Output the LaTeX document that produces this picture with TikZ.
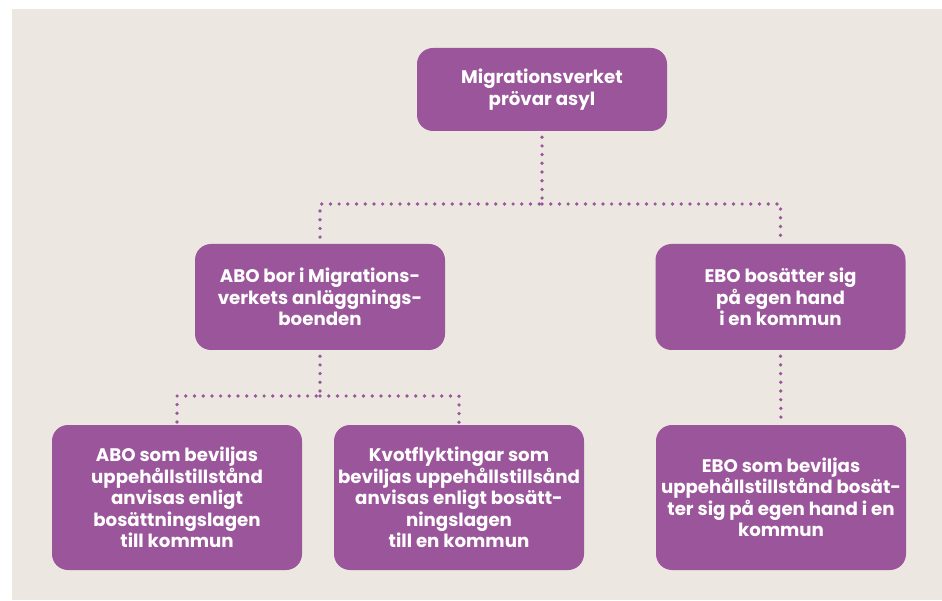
\documentclass[tikz,border=0pt]{standalone}
\usepackage{fontspec}
\setmainfont{Poppins}
\usepackage{tikz}
\definecolor{migpurple}{RGB}{155, 85, 155}
\definecolor{bgbeige}{RGB}{236, 232, 225}

\begin{document}
\begin{tikzpicture}[x = 1pt, y = -1pt,
		box/.style = {rounded corners = 16pt, fill = migpurple, text = white, align = center,
			minimum width = 250pt, inner sep = 0pt, font = \bfseries\fontsize{18.2}{21.5}\selectfont},
		link/.style = {migpurple, line width = 3.7pt, line cap = round, dash pattern = on 0pt off 8.7pt}]
		\useasboundingbox (0,0) rectangle (942,601);
		\fill[bgbeige] (12,9) rectangle (942,600);
		\node (top) at (542,89.5) [box, minimum height = 83pt] {Migrationsverket\\prövar asyl};
		\node (abo) at (320,297) [box, minimum height = 106pt] {ABO bor i Migrations-\\verkets anläggnings-\\boenden};
		\node (ebo) at (780.5,297) [box, minimum height = 106pt] {EBO bosätter sig\\på egen hand\\i en kommun};
		\node (aboyes) at (177,497.5) [box, minimum height = 145pt] {ABO som beviljas\\uppehållstillstånd\\anvisas enligt\\bosättningslagen\\till kommun};
		\node (kvot) at (459,497.5) [box, minimum height = 145pt] {Kvotflyktingar som\\beviljas uppehållstillsånd\\anvisas enligt bosätt-\\ningslagen\\till en kommun};
		\node (eboyes) at (781,497.5) [box, minimum height = 145pt] {EBO som beviljas\\uppehållstillstånd bosät-\\ter sig på egen hand i en\\kommun};
		\coordinate (split1) at (542,204);
		\coordinate (split2) at (320,396);
		\draw[link] ([yshift = -6pt]top.south) -- (split1) -| (abo.north);
		\draw[link] (split1) -| (ebo.north);
		\draw[link] ([yshift = -6pt]abo.south) -- (split2) -| (aboyes.north);
		\draw[link] (split2) -| (kvot.north);
		\draw[link] ([yshift = -6pt]ebo.south) -- (eboyes.north);
		\end{tikzpicture}
\end{document}
